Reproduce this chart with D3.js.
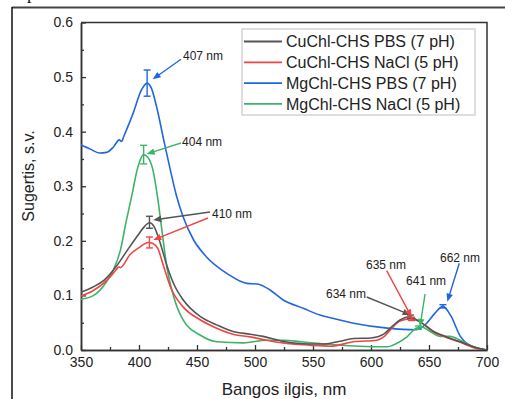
<!DOCTYPE html>
<html><head><meta charset="utf-8">
<script src="https://cdn.jsdelivr.net/npm/d3@7"></script>
<style>
html,body{margin:0;padding:0;background:#fff;}
svg{display:block;font-family:"Liberation Sans",Arial,sans-serif;}
</style></head>
<body>
<svg id="chart" width="505" height="399"></svg>
<script>
// ---------- DATA ----------
const seriesNames = ["CuChl-CHS PBS (7 pH)", "CuChl-CHS NaCl (5 pH)", "MgChl-CHS PBS (7 pH)", "MgChl-CHS NaCl (5 pH)"];
const seriesColors = ["#555555", "#f04545", "#2166e0", "#3db36a"];

const cuPbsWl  = [350,360,370,380,390,400,405,409,413,418,424,430,438,453,467,481,496,507,524,547,560,573,585,600,611,618,625,633,642,654,665,677,691,700];
const cuPbsAbs = [0.106,0.115,0.128,0.152,0.183,0.213,0.227,0.233,0.226,0.198,0.155,0.121,0.092,0.061,0.046,0.034,0.029,0.025,0.016,0.011,0.011,0.016,0.021,0.022,0.029,0.043,0.055,0.061,0.052,0.034,0.024,0.015,0.004,0.0];

const cuNaclWl  = [350,360,372,380,382.5,384,392,401,408,412,416,421,427,438,453,467,481,496,510,524,547,565,585,605,611,618,625,634,642,654,665,677,691,700];
const cuNaclAbs = [0.099,0.108,0.127,0.146,0.152,0.151,0.174,0.189,0.197,0.195,0.187,0.155,0.116,0.079,0.055,0.040,0.029,0.024,0.018,0.013,0.009,0.007,0.015,0.018,0.024,0.040,0.053,0.057,0.052,0.033,0.023,0.014,0.003,0.0];

const mgPbsWl  = [350,358,366,372,378,383,385,387,395,402,407,411,415,422,427,432,438,447,458,476,493,502,513,524,542,556,565,585,614,639,648,655,662,669,677,685,700];
const mgPbsAbs = [0.376,0.368,0.361,0.362,0.372,0.385,0.382,0.392,0.434,0.476,0.489,0.478,0.447,0.378,0.330,0.285,0.244,0.202,0.171,0.140,0.122,0.121,0.110,0.092,0.076,0.064,0.059,0.049,0.040,0.037,0.049,0.067,0.080,0.062,0.025,0.009,0.0];

const mgNaclWl  = [350,361,372,378,384,389,394,399,404,408,412,416,420,424,430,438,453,467,490,510,525,540,565,590,614,622,631,639,644,651,660,668,677,688,700];
const mgNaclAbs = [0.093,0.100,0.125,0.147,0.183,0.236,0.285,0.335,0.358,0.352,0.330,0.280,0.215,0.152,0.097,0.055,0.027,0.015,0.013,0.018,0.018,0.015,0.010,0.007,0.006,0.012,0.024,0.040,0.042,0.034,0.025,0.025,0.018,0.006,0.0];

// error bars: series index, wavelength, value, half-range
const errSeries = [2, 3, 0, 1, 0, 1, 3, 2];
const errWl     = [407, 404, 409, 409, 634, 635, 641, 662];
const errVal    = [0.489, 0.358, 0.234, 0.197, 0.061, 0.057, 0.041, 0.080];
const errHalf   = [0.024, 0.017, 0.011, 0.010, 0.003, 0.003, 0.003, 0.003];

// annotation labels (text left / middle in data units) and arrows (start -> tip in data units)
const annLabels = ["407 nm", "404 nm", "410 nm", "634 nm", "635 nm", "641 nm", "662 nm"];
const annTextWl = [437.9, 437.1, 462.9, 561.2, 595.7, 630.2, 659.5];
const annTextAbs= [0.539, 0.3816, 0.249, 0.1026, 0.1557, 0.127, 0.169];
const arrowSeries = [2, 3, 0, 1, 0, 1, 3, 2];
const arrowFrom = [[436.2,0.5326],[436.2,0.3793],[461.2,0.2528],[459.5,0.2418],[596.3,0.0971],[613.5,0.1453],[646.6,0.1026],[676.1,0.1589]];
const arrowTo   = [[411.8,0.4960],[406.6,0.3591],[412.3,0.2382],[412.3,0.2015],[634.2,0.0641],[635.1,0.0599],[642.2,0.0421],[665.8,0.0885]];

const xMajorTicks = [350,400,450,500,550,600,650,700];
const xMinorTicks = [375,425,475,525,575,625,675];
const yMajorTicks = [0.0,0.1,0.2,0.3,0.4,0.5,0.6];
const yMinorTicks = [0.05,0.15,0.25,0.35,0.45,0.55];
const xTitle = "Bangos ilgis, nm";
const yTitle = "Sugertis, s.v.";

// ---------- DRAW ----------
const svg = d3.select("#chart");
const x = d3.scaleLinear().domain([350,700]).range([81,487]);
const y = d3.scaleLinear().domain([0,0.6]).range([350,22.5]);
const axisColor = "#333";

// page artefacts: outer frame and cut glyph
svg.append("text").attr("x",27).attr("y",-1).attr("font-family","Liberation Serif, serif").attr("font-size",18).attr("fill","#111").text("p");
svg.append("line").attr("x1",12).attr("x2",505).attr("y1",7.5).attr("y2",7.5).attr("stroke","#444").attr("stroke-width",2);
svg.append("line").attr("x1",12).attr("x2",12).attr("y1",7).attr("y2",399).attr("stroke","#111").attr("stroke-width",1.5);

// frame top/right
svg.append("path").attr("d",`M${x(350)},${y(0.6)}H${x(700)}V${y(0)}`).attr("fill","none").attr("stroke",axisColor).attr("stroke-width",1.5);

// axes
const fmt = d3.format(".1f");
const gx = svg.append("g").attr("transform",`translate(0,${y(0)})`)
  .call(d3.axisBottom(x).tickValues(xMajorTicks).tickSizeInner(-5).tickSizeOuter(0).tickPadding(7));
const gxm = svg.append("g").attr("transform",`translate(0,${y(0)})`)
  .call(d3.axisBottom(x).tickValues(xMinorTicks).tickSizeInner(-3).tickSizeOuter(0).tickFormat(""));
const gy = svg.append("g").attr("transform",`translate(${x(350)},0)`)
  .call(d3.axisLeft(y).tickValues(yMajorTicks).tickFormat(fmt).tickSizeInner(-5).tickSizeOuter(0).tickPadding(8));
const gym = svg.append("g").attr("transform",`translate(${x(350)},0)`)
  .call(d3.axisLeft(y).tickValues(yMinorTicks).tickSizeInner(-3).tickSizeOuter(0).tickFormat(""));
[gx,gxm,gy,gym].forEach(g=>{
  g.selectAll("path.domain").attr("stroke",axisColor).attr("stroke-width",1.5);
  g.selectAll(".tick line").attr("stroke",axisColor).attr("stroke-width",1.3);
  g.selectAll(".tick text").attr("font-family","Liberation Sans, Arial, sans-serif").attr("font-size",14).attr("fill","#222");
});

// titles
svg.append("text").attr("x",(x(350)+x(700))/2).attr("y",395).attr("text-anchor","middle")
  .attr("font-size",17).attr("fill","#222").text(xTitle);
svg.append("text").attr("transform","translate(34,176) rotate(-90)").attr("text-anchor","middle")
  .attr("font-size",16).attr("fill","#222").text(yTitle);

// series
const allWl = [cuPbsWl, cuNaclWl, mgPbsWl, mgNaclWl];
const allAbs = [cuPbsAbs, cuNaclAbs, mgPbsAbs, mgNaclAbs];
svg.append("clipPath").attr("id","clip").append("rect")
  .attr("x",x(350)).attr("y",y(0.6)).attr("width",x(700)-x(350)).attr("height",y(0)-y(0.6));
const line = d3.line().x(d=>x(d[0])).y(d=>y(d[1])).curve(d3.curveMonotoneX);
const plotG = svg.append("g").attr("clip-path","url(#clip)");
const drawOrder = [2,3,1,0];
drawOrder.forEach(i=>{
  const pts = allWl[i].map((w,k)=>[w, allAbs[i][k]]);
  plotG.append("path").datum(pts).attr("d",line).attr("fill","none")
    .attr("stroke",seriesColors[i]).attr("stroke-width",1.6).attr("stroke-linejoin","round");
});

// error bars
errWl.forEach((w,k)=>{
  const c = seriesColors[errSeries[k]];
  const cx = x(w), y1 = y(errVal[k]-errHalf[k]), y2 = y(errVal[k]+errHalf[k]);
  const g = svg.append("g").attr("stroke",c).attr("stroke-width",1.4);
  g.append("line").attr("x1",cx).attr("x2",cx).attr("y1",y1).attr("y2",y2);
  g.append("line").attr("x1",cx-3.5).attr("x2",cx+3.5).attr("y1",y1).attr("y2",y1);
  g.append("line").attr("x1",cx-3.5).attr("x2",cx+3.5).attr("y1",y2).attr("y2",y2);
});

// annotation arrows
arrowFrom.forEach((f,k)=>{
  const c = seriesColors[arrowSeries[k]];
  const x1 = x(f[0]), y1 = y(f[1]), x2 = x(arrowTo[k][0]), y2 = y(arrowTo[k][1]);
  const dx = x2-x1, dy = y2-y1, L = Math.hypot(dx,dy), ux = dx/L, uy = dy/L;
  const hl = 8, hw = 3.3;
  const bx = x2-ux*hl, by = y2-uy*hl;
  svg.append("line").attr("x1",x1).attr("y1",y1).attr("x2",bx+ux).attr("y2",by+uy)
    .attr("stroke",c).attr("stroke-width",1.4);
  svg.append("path").attr("d",`M${x2},${y2}L${bx-uy*hw},${by+ux*hw}L${bx+uy*hw},${by-ux*hw}Z`).attr("fill",c);
});
annLabels.forEach((t,k)=>{
  svg.append("text").attr("x",x(annTextWl[k])).attr("y",y(annTextAbs[k])).attr("dy","0.35em")
    .attr("font-size",12).attr("fill","#222").text(t);
});

// legend
const lg = svg.append("g");
lg.append("rect").attr("x",242).attr("y",29).attr("width",233).attr("height",86)
  .attr("fill","#fff").attr("stroke","#c8c8c8").attr("stroke-width",1.2);
seriesNames.forEach((n,i)=>{
  const yy = 41.5 + i*20.8;
  lg.append("line").attr("x1",244).attr("x2",282).attr("y1",yy).attr("y2",yy)
    .attr("stroke",seriesColors[i]).attr("stroke-width",1.8);
  lg.append("text").attr("x",286).attr("y",yy).attr("dy","0.36em").attr("font-size",16)
    .attr("fill","#222").text(n);
});
</script>
</body></html>
